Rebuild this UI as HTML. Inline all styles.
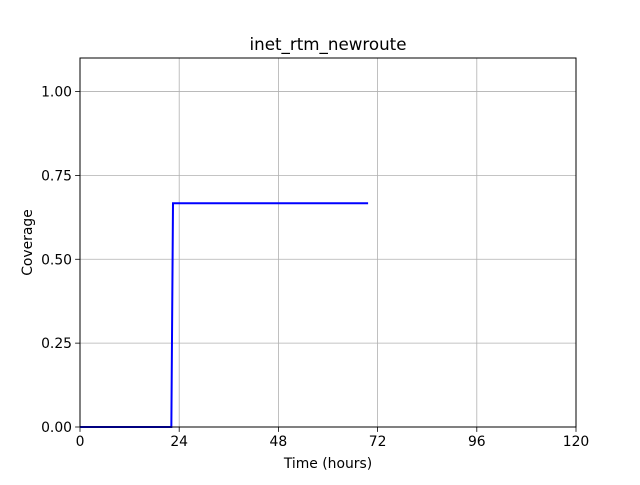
<!DOCTYPE html>
<html><head><meta charset="utf-8"><style>
body{margin:0;background:#fff;}
svg text{font-family:"DejaVu Sans","Liberation Sans",sans-serif;}
</style></head><body>
<svg id="chart" width="640" height="480">
<rect x="0" y="0" width="640" height="480" fill="#fff"/>
<g id="grid"></g>
<g id="ticks"></g>
<g id="series"></g>
<rect x="80" y="58" width="496" height="369" fill="none" stroke="#000" stroke-width="1"/>
<text x="328" y="50" font-size="16.7" text-anchor="middle">inet_rtm_newroute</text>
<text x="328" y="468" font-size="13.9" text-anchor="middle">Time (hours)</text>
<text x="32" y="242.5" font-size="13.9" text-anchor="middle" transform="rotate(-90 32 242.5)">Coverage</text>
</svg>
<script>
const xTicks=[0,24,48,72,96,120];
const yTicks=[0,0.25,0.5,0.75,1.0];
const yTickLabels=["0.00","0.25","0.50","0.75","1.00"];
const timeHours=[0,22.1,22.5,69.7];
const coverage=[0,0,0.667,0.667];
const X0=80,X1=576,Y0=427,Y1=58,xmax=120,ymax=1.1;
const sx=v=>X0+v/xmax*(X1-X0);
const sy=v=>Y0-v/ymax*(Y0-Y1);
const NS="http://www.w3.org/2000/svg";
const grid=document.getElementById('grid'),ticks=document.getElementById('ticks'),series=document.getElementById('series');
function mk(t,a){const e=document.createElementNS(NS,t);for(const k in a)e.setAttribute(k,a[k]);return e;}
xTicks.forEach(v=>{
 const x=sx(v);
 const g=mk('line',{x1:x,x2:x,y1:Y1,y2:Y0,stroke:'#b0b0b0','stroke-width':0.8});
 
 
 grid.appendChild(g);
 const t=mk('line',{x1:x,x2:x,y1:Y0,y2:Y0+4.9,stroke:'#000','stroke-width':0.8});
 
 
 ticks.appendChild(t);
 const l=mk('text',{x:x,y:Y0+19,'font-size':13.9,'text-anchor':'middle'});l.textContent=v;
 
 
 ticks.appendChild(l);
});
yTicks.forEach((v,i)=>{
 const y=sy(v);
 const g=mk('line',{x1:X0,x2:X1,y1:y,y2:y,stroke:'#b0b0b0','stroke-width':0.8});
 
 
 grid.appendChild(g);
 const t=mk('line',{x1:X0-4.9,x2:X0,y1:y,y2:y,stroke:'#000','stroke-width':0.8});
 
 
 ticks.appendChild(t);
 const l=mk('text',{x:X0-8,y:y+5,'font-size':13.9,'text-anchor':'end'});l.textContent=yTickLabels[i];
 
 
 ticks.appendChild(l);
});
const pts=timeHours.map((t,i)=>sx(t)+','+sy(coverage[i])).join(' ');
const line=mk('polyline',{points:pts,fill:'none',stroke:'#0000ff','stroke-width':2});


series.appendChild(line);
</script>
</body></html>
